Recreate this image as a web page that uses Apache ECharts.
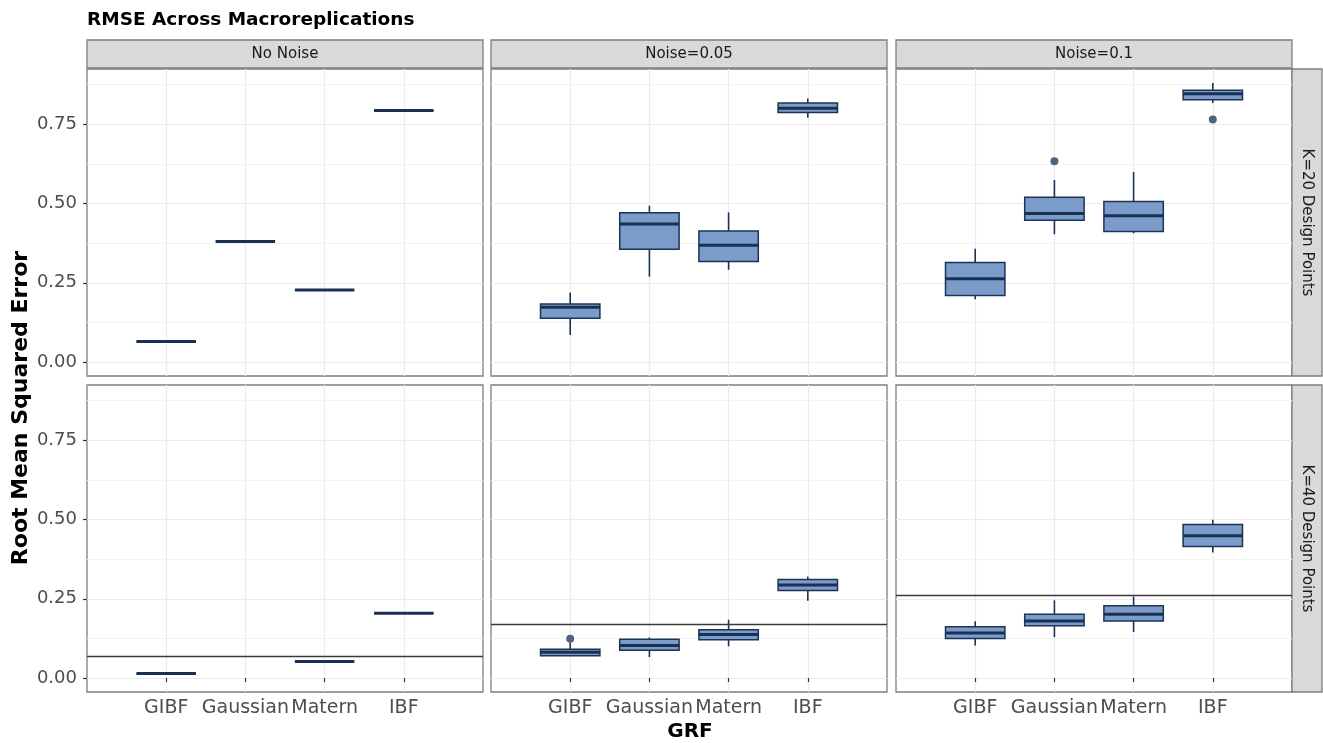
<!DOCTYPE html>
<html>
<head>
<meta charset="utf-8">
<script src="https://cdn.jsdelivr.net/npm/echarts@6/dist/echarts.min.js"></script>
<style>
  html, body { margin: 0; padding: 0; background: #fff; }
  #chart { width: 1323px; height: 743px; }
</style>
</head>
<body>
<div id="chart"></div>
<script>
// Facet labels and categories
const methods = ['GIBF', 'Gaussian', 'Matern', 'IBF'];
const noiseLevels = ['No Noise', 'Noise=0.05', 'Noise=0.1'];
const designSizes = ['K=20 Design Points', 'K=40 Design Points'];
const yTicks = [0, 0.25, 0.5, 0.75];
const yMinorTicks = [0.125, 0.375, 0.625, 0.875];
const xTicks = [1, 2, 3, 4];

// Box statistics: [method position, lower whisker, Q1, median, Q3, upper whisker]
const k20NoNoise = [
  [1, 0.065, 0.065, 0.065, 0.065, 0.065],
  [2, 0.380, 0.380, 0.380, 0.380, 0.380],
  [3, 0.227, 0.227, 0.227, 0.227, 0.227],
  [4, 0.793, 0.793, 0.793, 0.793, 0.793]
];
const k20Noise005 = [
  [1, 0.085, 0.138, 0.173, 0.183, 0.219],
  [2, 0.269, 0.356, 0.435, 0.471, 0.493],
  [3, 0.291, 0.317, 0.368, 0.413, 0.472],
  [4, 0.770, 0.787, 0.800, 0.817, 0.831]
];
const k20Noise01 = [
  [1, 0.198, 0.210, 0.263, 0.314, 0.357],
  [2, 0.403, 0.447, 0.468, 0.520, 0.574],
  [3, 0.406, 0.412, 0.461, 0.506, 0.599],
  [4, 0.817, 0.827, 0.846, 0.857, 0.880]
];
const k40NoNoise = [
  [1, 0.014, 0.014, 0.014, 0.014, 0.014],
  [3, 0.052, 0.052, 0.052, 0.052, 0.052],
  [4, 0.204, 0.204, 0.204, 0.204, 0.204]
];
const k40Noise005 = [
  [1, 0.070, 0.070, 0.081, 0.091, 0.113],
  [2, 0.066, 0.088, 0.103, 0.122, 0.128],
  [3, 0.100, 0.121, 0.137, 0.152, 0.184],
  [4, 0.244, 0.276, 0.293, 0.311, 0.320]
];
const k40Noise01 = [
  [1, 0.103, 0.125, 0.142, 0.162, 0.179],
  [2, 0.129, 0.165, 0.180, 0.201, 0.245],
  [3, 0.145, 0.180, 0.201, 0.228, 0.257],
  [4, 0.396, 0.415, 0.449, 0.484, 0.499]
];

// Outlying macroreplications: [method position, RMSE]
const k20NoNoiseOutliers = [];
const k20Noise005Outliers = [];
const k20Noise01Outliers = [[2, 0.633], [4, 0.765]];
const k40NoNoiseOutliers = [];
const k40Noise005Outliers = [[1, 0.124]];
const k40Noise01Outliers = [];

// K=20 GIBF median per noise level, drawn as a reference in the K=40 row
const referenceLines = [0.065, 0.173, 0.263];

const panelBoxes = [k20NoNoise, k20Noise005, k20Noise01, k40NoNoise, k40Noise005, k40Noise01];
const panelOutliers = [k20NoNoiseOutliers, k20Noise005Outliers, k20Noise01Outliers,
                       k40NoNoiseOutliers, k40Noise005Outliers, k40Noise01Outliers];

// Layout
const colLeft = [87, 491, 896];
const rowTop = [69, 385];
const panelW = 396, panelH = 307;
const stripH = 28, stripW = 30;
const Y_MIN = -0.044, Y_MAX = 0.924;

const FONT = 'DejaVu Sans';
const BORDER = '#7f7f7f';
const STROKE = '#1c3358';
const FILL = '#7b9bc8';

function renderBox(params, api) {
  const x = api.value(0);
  const lo = api.coord([x, api.value(1)]);
  const q1 = api.coord([x, api.value(2)]);
  const med = api.coord([x, api.value(3)]);
  const q3 = api.coord([x, api.value(4)]);
  const hi = api.coord([x, api.value(5)]);
  const half = api.size([1, 0])[0] * 0.375;
  return {
    type: 'group',
    children: [
      { type: 'line', shape: { x1: hi[0], y1: hi[1], x2: q3[0], y2: q3[1] },
        style: { stroke: STROKE, lineWidth: 1.6 } },
      { type: 'line', shape: { x1: q1[0], y1: q1[1], x2: lo[0], y2: lo[1] },
        style: { stroke: STROKE, lineWidth: 1.6 } },
      { type: 'rect', shape: { x: q3[0] - half, y: q3[1], width: half * 2, height: q1[1] - q3[1] },
        style: { fill: FILL, stroke: STROKE, lineWidth: 1.5 } },
      { type: 'line', shape: { x1: med[0] - half, y1: med[1], x2: med[0] + half, y2: med[1] },
        style: { stroke: '#1a3052', lineWidth: 3 } }
    ]
  };
}

const grids = [], xAxes = [], yAxes = [], series = [], graphics = [];

for (let r = 0; r < 2; r++) {
  for (let c = 0; c < 3; c++) {
    const i = r * 3 + c;
    grids.push({
      left: colLeft[c], top: rowTop[r], width: panelW, height: panelH,
      show: true, borderColor: BORDER, borderWidth: 1.3, backgroundColor: '#fff'
    });
    xAxes.push({
      gridIndex: i, type: 'value', min: 0, max: 5,
      axisLine: { show: false },
      axisTick: { show: r === 1, customValues: xTicks, length: 4, lineStyle: { color: '#333', width: 1.2 } },
      axisLabel: {
        show: r === 1, customValues: xTicks, margin: 7,
        formatter: v => methods[v - 1] || '',
        color: '#4d4d4d', fontFamily: FONT, fontSize: 19
      },
      splitLine: { show: true, lineStyle: { color: '#ebebeb', width: 1.2 } }
    });
    // major y axis
    yAxes.push({
      gridIndex: i, type: 'value', min: Y_MIN, max: Y_MAX,
      axisLine: { show: false },
      axisTick: { show: c === 0, customValues: yTicks, length: 4, lineStyle: { color: '#333', width: 1.2 } },
      axisLabel: {
        show: c === 0, customValues: yTicks, margin: 10,
        formatter: v => v.toFixed(2),
        color: '#4d4d4d', fontFamily: FONT, fontSize: 18
      },
      splitLine: { show: true, lineStyle: { color: '#ebebeb', width: 1.2 } }
    });
    // minor y grid
    yAxes.push({
      gridIndex: i, type: 'value', min: Y_MIN, max: Y_MAX, position: 'right',
      axisLine: { show: false },
      axisTick: { show: false, customValues: yMinorTicks },
      axisLabel: { show: false, customValues: yMinorTicks },
      splitLine: { show: true, lineStyle: { color: '#f3f3f3', width: 1 } }
    });

    series.push({
      type: 'custom', xAxisIndex: i, yAxisIndex: 2 * i,
      renderItem: renderBox,
      encode: { x: 0, y: [1, 2, 3, 4, 5] },
      data: panelBoxes[i], silent: true, z: 3
    });
    const scatter = {
      type: 'scatter', xAxisIndex: i, yAxisIndex: 2 * i,
      data: panelOutliers[i], symbolSize: 8, silent: true, z: 4,
      itemStyle: { color: '#4f6282', opacity: 1 }
    };
    if (r === 1) {
      scatter.markLine = {
        silent: true, symbol: ['none', 'none'], animation: false,
        label: { show: false },
        lineStyle: { color: '#3a3a3a', width: 1.4, type: 'solid' },
        data: [{ yAxis: referenceLines[c] }]
      };
    }
    series.push(scatter);
  }
}

// Column strips
for (let c = 0; c < 3; c++) {
  graphics.push({
    type: 'rect', shape: { x: colLeft[c], y: rowTop[0] - stripH - 1, width: panelW, height: stripH },
    style: { fill: '#d9d9d9', stroke: BORDER, lineWidth: 1.3 }
  });
  graphics.push({
    type: 'text', x: colLeft[c] + panelW / 2, y: rowTop[0] - stripH / 2 - 1,
    style: { text: noiseLevels[c], textAlign: 'center', textVerticalAlign: 'middle',
             font: '15px "DejaVu Sans"', fill: '#1a1a1a' }
  });
}
// Row strips
const stripX = colLeft[2] + panelW;
for (let r = 0; r < 2; r++) {
  graphics.push({
    type: 'rect', shape: { x: stripX, y: rowTop[r], width: stripW, height: panelH },
    style: { fill: '#d9d9d9', stroke: BORDER, lineWidth: 1.3 }
  });
  graphics.push({
    type: 'text', x: stripX + stripW / 2, y: rowTop[r] + panelH / 2, rotation: -Math.PI / 2,
    style: { text: designSizes[r], textAlign: 'center', textVerticalAlign: 'middle',
             font: '15px "DejaVu Sans"', fill: '#1a1a1a' }
  });
}
// Titles
graphics.push({
  type: 'text', x: 87, y: 20,
  style: { text: 'RMSE Across Macroreplications', textAlign: 'left', textVerticalAlign: 'middle',
           font: 'bold 18.5px "DejaVu Sans"', fill: '#000' }
});
graphics.push({
  type: 'text', x: 21, y: 408, rotation: Math.PI / 2,
  style: { text: 'Root Mean Squared Error', textAlign: 'center', textVerticalAlign: 'middle',
           font: 'bold 22px "DejaVu Sans"', fill: '#000' }
});
graphics.push({
  type: 'text', x: 690, y: 732,
  style: { text: 'GRF', textAlign: 'center', textVerticalAlign: 'middle',
           font: 'bold 20px "DejaVu Sans"', fill: '#000' }
});

const chart = echarts.init(document.getElementById('chart'), null, { renderer: 'canvas' });
chart.setOption({
  animation: false,
  backgroundColor: '#fff',
  grid: grids,
  xAxis: xAxes,
  yAxis: yAxes,
  series: series,
  graphic: graphics
});
</script>
</body>
</html>
